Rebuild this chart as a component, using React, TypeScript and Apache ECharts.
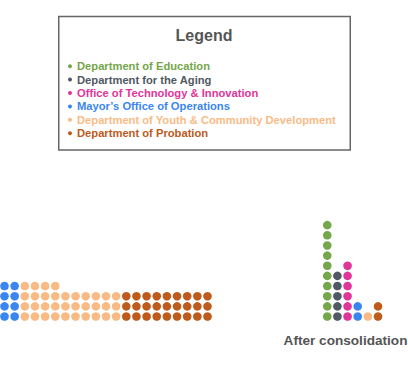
import React, { useEffect, useRef } from "react";
import * as echarts from "echarts";

const departments = [
  "Department of Education",
  "Department for the Aging",
  "Office of Technology & Innovation",
  "Mayor’s Office of Operations",
  "Department of Youth & Community Development",
  "Department of Probation",
];
const colors = ["#74a64a", "#4f5863", "#e0359a", "#3a86f0", "#f9bb85", "#bd5a1c"];
// dots per department before consolidation (left block) and the block width in dots
const beforeCounts = [0, 0, 0, 8, 34, 27];
const beforeBlockWidths = [0, 0, 0, 2, 10, 9];
// dots per department after consolidation (one column each)
const afterCounts = [10, 5, 6, 2, 1, 2];
const afterLabel = "After consolidation";
const legendTitle = "Legend";

const FONT = "'Liberation Sans', Arial, Helvetica, sans-serif";
const S = 10.15; // px per dot step
const RIGHT_X0 = 31.8;
const X_MIN = -4.5 / S;
const X_MAX = X_MIN + 408 / S;
const Y_MIN = -68.5 / S;
const Y_MAX = Y_MIN + 385 / S;

function buildData() {
  const out: number[][][] = departments.map(() => []);
  let col = 0;
  departments.forEach((_, i) => {
    const n = beforeCounts[i];
    const w = beforeBlockWidths[i];
    if (!n || !w) return;
    for (let k = 0; k < n; k++) {
      out[i].push([col + (k % w), Math.floor(k / w)]);
    }
    col += w;
  });
  departments.forEach((_, i) => {
    for (let k = 0; k < afterCounts[i]; k++) {
      out[i].push([RIGHT_X0 + i, k]);
    }
  });
  return out;
}

export default function App() {
  const ref = useRef<HTMLDivElement>(null);
  useEffect(() => {
    if (!ref.current) return;
    const chart = echarts.init(ref.current, undefined, { renderer: "svg" });
    const data = buildData();
    chart.setOption({
      animation: false,
      backgroundColor: "#ffffff",
      textStyle: { fontFamily: FONT },
      title: {
        text: legendTitle,
        left: "center",
        top: 27,
        padding: 0,
        textStyle: { fontSize: 16, fontWeight: "bold", color: "#555555", fontFamily: FONT },
      },
      legend: {
        orient: "vertical",
        left: 68,
        top: 59.5,
        padding: 0,
        itemGap: 0,
        itemWidth: 4,
        itemHeight: 4,
        icon: "circle",
        selectedMode: false,
        data: departments.map((name, i) => ({
          name,
          itemStyle: { color: colors[i], opacity: 1 },
          textStyle: { color: colors[i] },
        })),
        textStyle: { fontSize: 11.2, fontWeight: "bold", fontFamily: FONT, lineHeight: 13.4 },
      },
      grid: { left: 0, right: 0, top: 0, bottom: 0, containLabel: false },
      xAxis: { type: "value", min: X_MIN, max: X_MAX, show: false },
      yAxis: { type: "value", min: Y_MIN, max: Y_MAX, show: false },
      graphic: [
        {
          type: "rect",
          shape: { x: 58.75, y: 16.5, width: 291.5, height: 133.5 },
          style: { fill: "none", stroke: "#666666", lineWidth: 1.5 },
          z: -1,
        },
        {
          type: "text",
          x: 345.5,
          y: 340,
          style: {
            text: afterLabel,
            fill: "#555555",
            font: `bold 13.6px ${FONT}`,
            textAlign: "center",
            textVerticalAlign: "middle",
          },
        },
      ],
      series: departments.map((name, i) => ({
        name,
        type: "scatter",
        symbol: "circle",
        symbolSize: 8.6,
        itemStyle: { color: colors[i], opacity: 1 },
        data: data[i],
        silent: true,
      })),
    });
    return () => chart.dispose();
  }, []);
  return (
    <div
      ref={ref}
      style={{ position: "fixed", left: 0, top: 0, width: 408, height: 385 }}
    />
  );
}
